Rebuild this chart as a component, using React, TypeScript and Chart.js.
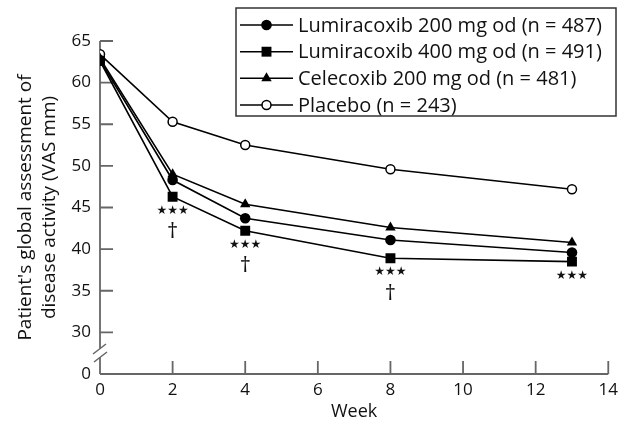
import { useEffect, useRef } from 'react';
import { Chart, registerables } from 'chart.js';

Chart.register(...registerables);

// ---- data ----
const weeks = [0, 2, 4, 8, 13];
const lumi200 = [62.7, 48.3, 43.7, 41.1, 39.6];
const lumi400 = [62.6, 46.3, 42.2, 38.9, 38.5];
const cele200 = [62.9, 49.0, 45.4, 42.6, 40.8];
const placebo = [63.4, 55.3, 52.5, 49.6, 47.2];
const seriesLabels = [
  'Lumiracoxib 200 mg od (n = 487)',
  'Lumiracoxib 400 mg od (n = 491)',
  'Celecoxib 200 mg od (n = 481)',
  'Placebo (n = 243)',
];
const starWeeks = [2, 4, 8, 13];
const daggerWeeks = [2, 4, 8];
const yTickValues = [25, 30, 35, 40, 45, 50, 55, 60, 65];
const yTickLabels = ['0', '30', '35', '40', '45', '50', '55', '60', '65'];
const xTickValues = [0, 2, 4, 6, 8, 10, 12, 14];
const xTickLabels = ['0', '2', '4', '6', '8', '10', '12', '14'];
const xTitle = 'Week';
const yTitle = ["Patient's global assessment of", 'disease activity (VAS mm)'];
const starText = '★★★';
const daggerText = '†';

const FONT = '"Open Sans", Lato, "DejaVu Sans", sans-serif';
const AXIS = '#666666';
const INK = '#111111';

type Marker = { style: string; radius: number; fill: string };
const markers: Marker[] = [
  { style: 'circle', radius: 5.3, fill: '#000' },
  { style: 'rect', radius: 7, fill: '#000' },
  { style: 'triangle', radius: 6, fill: '#000' },
  { style: 'circle', radius: 4.5, fill: '#fff' },
];

function drawMarker(ctx: CanvasRenderingContext2D, m: Marker, x: number, y: number) {
  ctx.save();
  ctx.fillStyle = m.fill;
  ctx.strokeStyle = '#000';
  ctx.lineWidth = 1.5;
  ctx.beginPath();
  if (m.style === 'circle') {
    ctx.arc(x, y, m.radius, 0, Math.PI * 2);
  } else if (m.style === 'rect') {
    const s = m.radius * Math.SQRT1_2;
    ctx.rect(x - s, y - s, 2 * s, 2 * s);
  } else {
    const r = m.radius;
    ctx.moveTo(x, y - r);
    ctx.lineTo(x + r * Math.sin(Math.PI / 3), y + r / 2);
    ctx.lineTo(x - r * Math.sin(Math.PI / 3), y + r / 2);
    ctx.closePath();
  }
  ctx.fill();
  if (m.fill === '#fff') ctx.stroke();
  ctx.restore();
}

const decorPlugin = {
  id: 'decor',
  beforeDatasetsDraw(chart: any) {
    const { ctx, chartArea } = chart;
    const xs = chart.scales.x;
    const ys = chart.scales.y;
    const x0 = chartArea.left;
    const yb = chartArea.bottom;
    ctx.save();
    ctx.strokeStyle = AXIS;
    ctx.lineWidth = 1.8;
    ctx.lineCap = 'butt';
    // y axis upper part
    ctx.beginPath();
    ctx.moveTo(x0, chartArea.top);
    ctx.lineTo(x0, yb - 25.5);
    ctx.stroke();
    // y axis lower part
    ctx.beginPath();
    ctx.moveTo(x0, yb - 16.5);
    ctx.lineTo(x0, yb);
    ctx.stroke();
    // break marks
    ctx.lineWidth = 1.5;
    ctx.beginPath();
    ctx.moveTo(x0 - 7, yb - 20);
    ctx.lineTo(x0 + 6, yb - 30);
    ctx.moveTo(x0 - 6, yb - 12);
    ctx.lineTo(x0 + 7, yb - 22);
    ctx.stroke();
    // x axis
    ctx.lineWidth = 1.8;
    ctx.beginPath();
    ctx.moveTo(x0, yb);
    ctx.lineTo(chartArea.right, yb);
    ctx.stroke();
    // inward y ticks
    ctx.beginPath();
    yTickValues.forEach((v) => {
      if (v === yTickValues[0]) return;
      const py = ys.getPixelForValue(v);
      ctx.moveTo(x0, py);
      ctx.lineTo(x0 + 13, py);
    });
    // inward x ticks
    xTickValues.forEach((v) => {
      if (v === xTickValues[0]) return;
      const px = xs.getPixelForValue(v);
      ctx.moveTo(px, yb);
      ctx.lineTo(px, yb - 13);
    });
    ctx.stroke();
    ctx.restore();
  },
  afterDraw(chart: any) {
    const { ctx } = chart;
    const xs = chart.scales.x;
    const ys = chart.scales.y;
    ctx.save();
    ctx.fillStyle = INK;
    ctx.textAlign = 'center';
    ctx.textBaseline = 'middle';
    // significance marks under the lowest series
    starWeeks.forEach((w) => {
      const i = weeks.indexOf(w);
      const px = xs.getPixelForValue(w);
      const py = ys.getPixelForValue(lumi400[i]);
      ctx.font = '12px "DejaVu Sans"';
      ctx.fillText(starText, px, py + 14);
    });
    daggerWeeks.forEach((w) => {
      const i = weeks.indexOf(w);
      const px = xs.getPixelForValue(w);
      const py = ys.getPixelForValue(lumi400[i]);
      ctx.font = '22px ' + FONT;
      ctx.fillText(daggerText, px, py + 35);
    });
    // legend
    const bx = 236, by = 8, bw = 380, bh = 108;
    ctx.strokeStyle = '#333';
    ctx.lineWidth = 1.5;
    ctx.strokeRect(bx, by, bw, bh);
    const rows = [25, 51.7, 78.3, 105];
    seriesLabels.forEach((label, i) => {
      const ry = rows[i];
      ctx.strokeStyle = '#000';
      ctx.lineWidth = 1.5;
      ctx.beginPath();
      ctx.moveTo(240, ry);
      ctx.lineTo(293, ry);
      ctx.stroke();
      drawMarker(ctx, markers[i], 266.5, ry);
      ctx.fillStyle = INK;
      ctx.font = '20px ' + FONT;
      ctx.textAlign = 'left';
      ctx.fillText(label, 298, ry + 1);
    });
    ctx.restore();
  },
};

export default function App() {
  const ref = useRef<HTMLCanvasElement | null>(null);
  useEffect(() => {
    if (!ref.current) return;
    const series = [lumi200, lumi400, cele200, placebo];
    const chart = new Chart(ref.current, {
      type: 'line',
      data: {
        datasets: series.map((s, i) => ({
          label: seriesLabels[i],
          data: weeks.map((w, j) => ({ x: w, y: s[j] })),
          borderColor: '#000',
          borderWidth: 1.6,
          pointStyle: markers[i].style as any,
          pointRadius: markers[i].radius,
          pointBackgroundColor: markers[i].fill,
          pointBorderColor: '#000',
          pointBorderWidth: markers[i].fill === '#fff' ? 1.5 : 0,
          fill: false,
          tension: 0,
        })),
      },
      options: {
        responsive: false,
        animation: false,
        devicePixelRatio: 1,
        layout: { padding: { top: 41, right: 15, left: 0, bottom: 0 } },
        plugins: { legend: { display: false }, tooltip: { enabled: false } },
        events: [],
        scales: {
          x: {
            type: 'linear',
            min: 0,
            max: 14,
            grid: { display: false, drawTicks: false },
            border: { display: false },
            afterBuildTicks: (s: any) => {
              s.ticks = xTickValues.map((v) => ({ value: v }));
            },
            afterFit: (s: any) => {
              s.height = 52;
            },
            ticks: {
              autoSkip: false,
              maxRotation: 0,
              padding: 6,
              color: INK,
              font: { family: FONT, size: 17 },
              callback: (v: any) => xTickLabels[xTickValues.indexOf(Number(v))] ?? '',
            },
            title: {
              display: true,
              text: xTitle,
              color: INK,
              font: { family: FONT, size: 18 },
              padding: { top: 0, bottom: 3 },
            },
          },
          y: {
            type: 'linear',
            min: 25,
            max: 65,
            grid: { display: false, drawTicks: false },
            border: { display: false },
            afterBuildTicks: (s: any) => {
              s.ticks = yTickValues.map((v) => ({ value: v }));
            },
            afterFit: (s: any) => {
              s.width = 100;
            },
            ticks: {
              autoSkip: false,
              padding: 9,
              color: INK,
              font: { family: FONT, size: 17 },
              callback: (v: any) => yTickLabels[yTickValues.indexOf(Number(v))] ?? '',
            },
            title: {
              display: true,
              text: yTitle,
              color: INK,
              font: { family: FONT, size: 19, lineHeight: 1.3 },
              padding: { top: 13, bottom: 0 },
            },
          },
        },
      },
      plugins: [decorPlugin],
    });
    return () => chart.destroy();
  }, []);
  return (
    <div style={{ position: 'absolute', left: 0, top: 0, width: 624, height: 426, background: '#fff' }}>
      <canvas ref={ref} width={624} height={426} />
    </div>
  );
}
